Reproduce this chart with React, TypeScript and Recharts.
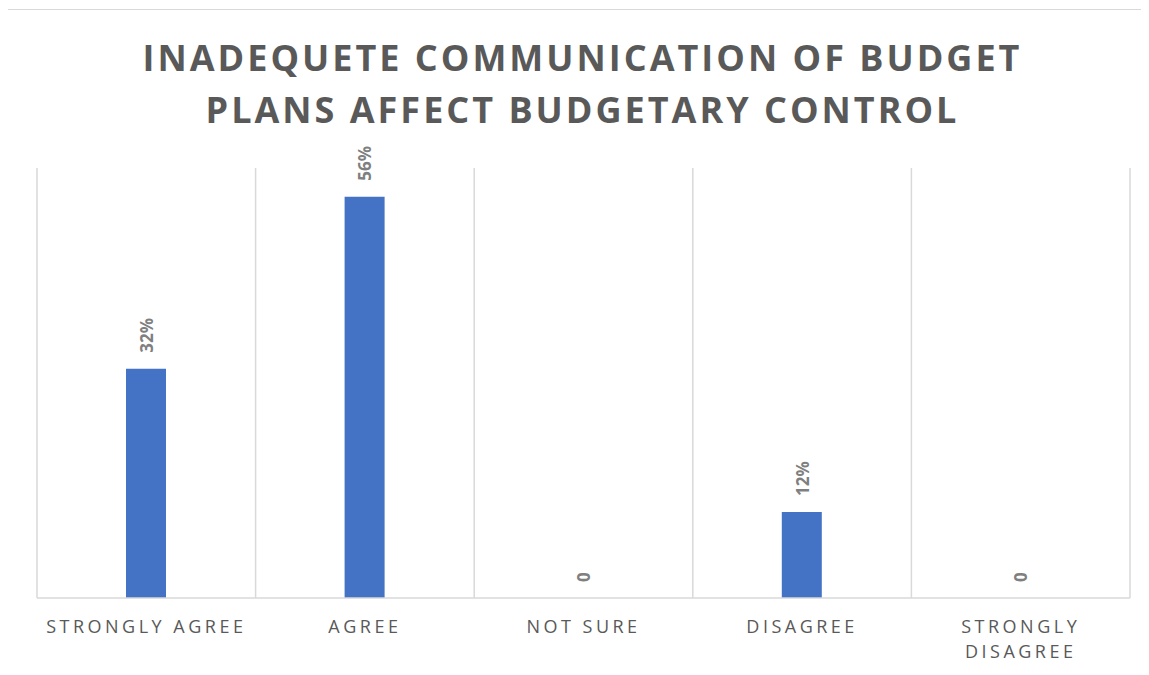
import React from 'react';
import { ComposedChart, Bar, Line, XAxis, YAxis, CartesianGrid, LabelList } from 'recharts';

const TITLE_LINES = ['INADEQUETE COMMUNICATION OF BUDGET', 'PLANS AFFECT BUDGETARY CONTROL'];
const CATEGORIES = ['STRONGLY AGREE', 'AGREE', 'NOT SURE', 'DISAGREE', 'STRONGLY DISAGREE'];
const SHARES = [0.32, 0.56, 0, 0.12, 0];
const Y_DOMAIN = [0, 0.6];

const data = CATEGORIES.map((name, i) => ({ name, value: SHARES[i] }));

const FONT = '"Open Sans", sans-serif';
const GRID = '#d9d9d9';

// Excel-like category tick: letter spaced, wraps long labels on spaces
const CategoryTick = (props: any) => {
  const { x, y, payload } = props;
  const label: string = payload.value;
  const lines = label.length > 15 ? label.split(' ') : [label];
  return (
    <g transform={`translate(${x},${y})`}>
      {lines.map((line, i) => (
        <text
          key={i}
          x={0}
          y={i * 25}
          dy={27}
          textAnchor="middle"
          fill="#595959"
          fontFamily={FONT}
          fontSize={18}
          letterSpacing={3.5}
        >
          {line}
        </text>
      ))}
    </g>
  );
};

// rotated data label sitting above each bar top (line points sit on the bar tops)
const ValueLabel = (props: any) => {
  const { x, y, value } = props;
  const top = y - 16;
  const text = value === 0 ? '0' : `${Math.round(value * 100)}%`;
  return (
    <text
      x={x}
      y={top}
      transform={`rotate(-90, ${x}, ${top})`}
      textAnchor="start"
      dominantBaseline="central"
      fill="#7f7f7f"
      fontFamily={FONT}
      fontWeight="bold"
      fontSize={17}
    >
      {text}
    </text>
  );
};

const App: React.FC = () => {
  return (
    <div
      style={{
        position: 'relative',
        width: 1137,
        height: 680,
        marginTop: 1,
        marginLeft: -1,
        border: `1px solid ${GRID}`,
        background: '#fff',
      }}
    >
      <div
        style={{
          position: 'absolute',
          top: 22,
          left: 12,
          right: 0,
          textAlign: 'center',
          fontFamily: FONT,
          fontWeight: 700,
          fontSize: 36,
          lineHeight: '52px',
          letterSpacing: 3,
          color: '#595959',
        }}
      >
        {TITLE_LINES.map((l) => (
          <div key={l}>{l}</div>
        ))}
      </div>
      <ComposedChart
        width={1137}
        height={665}
        data={data}
        margin={{ top: 158, right: 15, left: 29, bottom: 17 }}
      >
        <CartesianGrid
          horizontal={false}
          stroke={GRID}
          strokeWidth={1.5}
          verticalCoordinatesGenerator={({ offset }: any) =>
            Array.from({ length: CATEGORIES.length + 1 }, (_, i) => offset.left + (i * offset.width) / CATEGORIES.length)
          }
        />
        <XAxis
          dataKey="name"
          height={60}
          interval={0}
          tickLine={false}
          axisLine={{ stroke: GRID, strokeWidth: 1.5 }}
          tick={<CategoryTick />}
        />
        <YAxis hide domain={Y_DOMAIN} />
        <Bar dataKey="value" fill="#4472c4" barSize={40} isAnimationActive={false} />
        <Line
          dataKey="value"
          stroke="none"
          dot={false}
          activeDot={false}
          legendType="none"
          isAnimationActive={false}
        >
          <LabelList dataKey="value" content={<ValueLabel />} />
        </Line>
      </ComposedChart>
    </div>
  );
};

export default App;
